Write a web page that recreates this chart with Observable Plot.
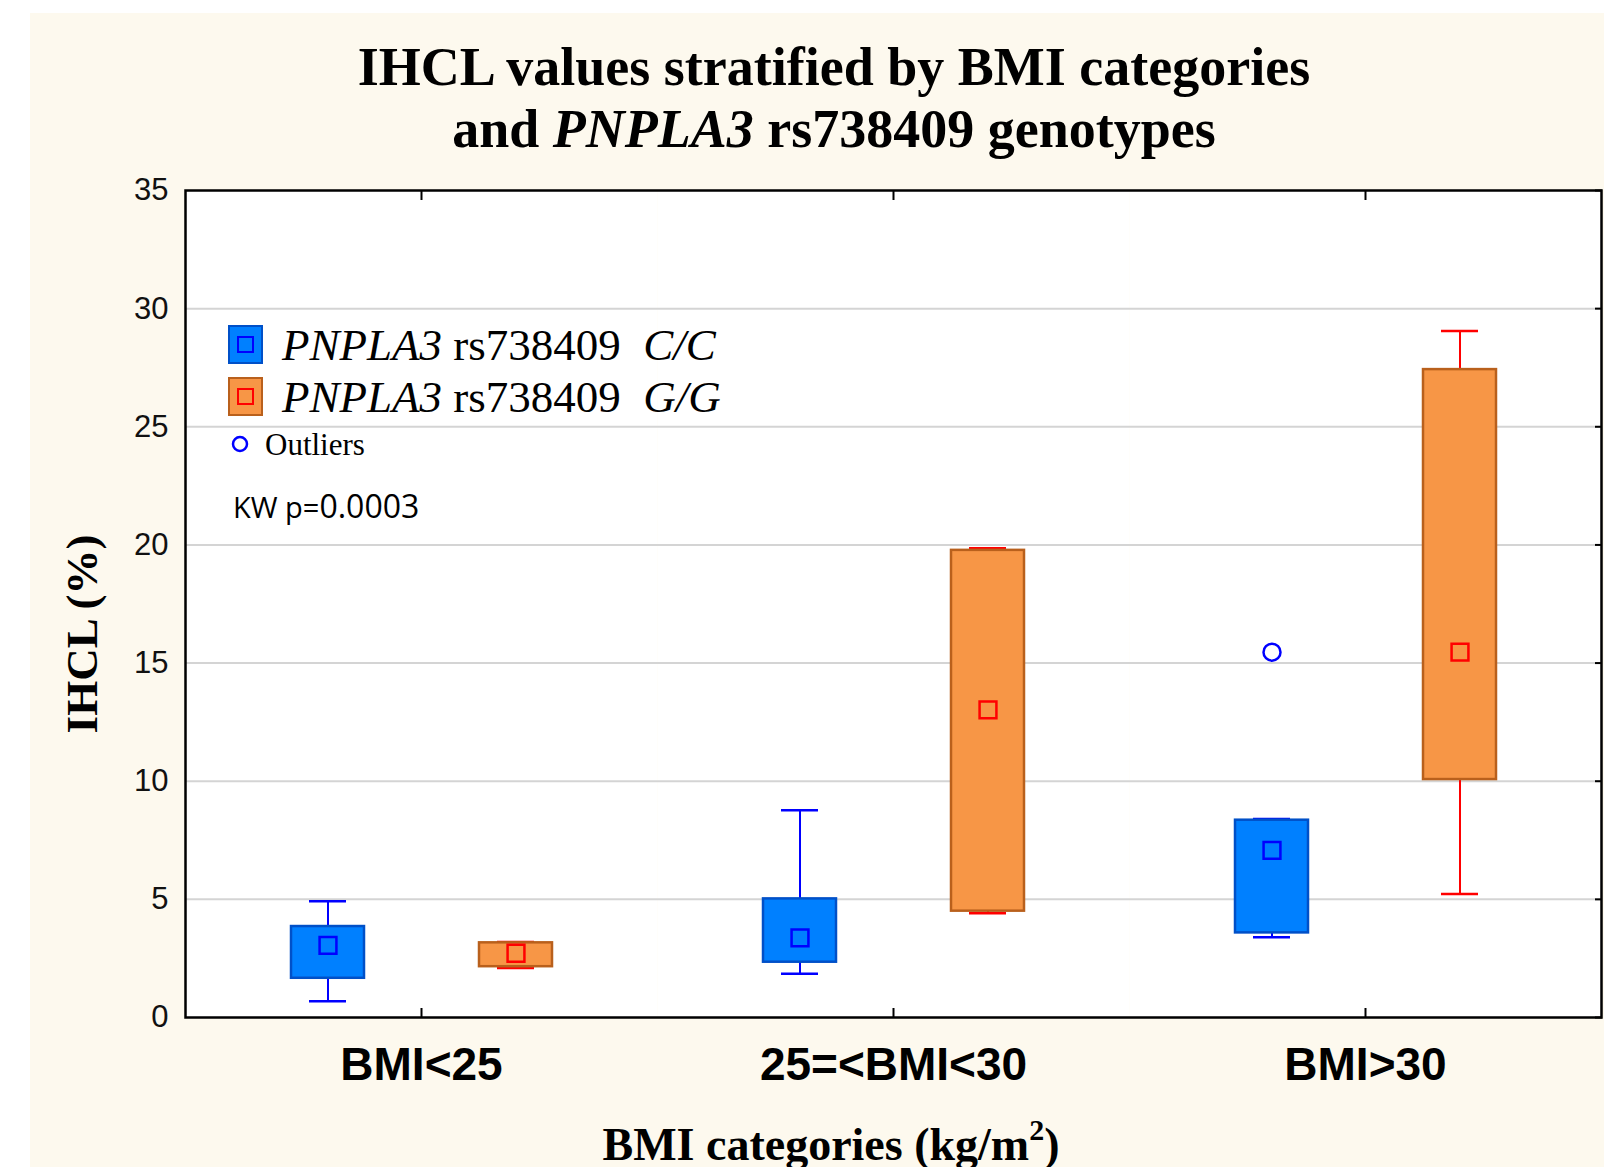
<!DOCTYPE html>
<html><head><meta charset="utf-8">
<script src="https://cdn.jsdelivr.net/npm/d3@7"></script>
<script src="https://cdn.jsdelivr.net/npm/@observablehq/plot@0.6"></script>
<style>
body{margin:0;background:#fff;width:1604px;height:1167px;position:relative;overflow:hidden;}
#bg{position:absolute;left:30px;top:13px;width:1574px;height:1154px;background:#fdf9ee;}
#title{position:absolute;left:0;width:1668px;top:36px;text-align:center;font:bold 54px/62px "Liberation Serif","Times New Roman",serif;color:#000;}
#ylab{position:absolute;left:82px;top:634px;transform:translate(-50%,-50%) rotate(-90deg);white-space:nowrap;font:bold 45px "Liberation Serif",serif;}
#xlab{position:absolute;left:0;width:1662px;top:1119px;text-align:center;font:bold 46px/52px "Liberation Serif",serif;white-space:nowrap;}
#xlab sup{font-size:30px;vertical-align:0;position:relative;top:-20px;}
#chart{position:absolute;left:0;top:150px;}
.sw{position:absolute;width:35px;height:39px;box-sizing:border-box;border:2px solid;}
.sw i{position:absolute;left:7px;top:9px;width:17px;height:17px;box-sizing:border-box;border:2.5px solid;}
.lt{position:absolute;font:45px "Liberation Serif",serif;transform:translateY(-50%);line-height:1;white-space:nowrap;}
</style></head>
<body>
<div id="bg"></div>
<div id="title">IHCL values stratified by BMI categories<br>and <i>PNPLA3</i> rs738409 genotypes</div>
<div id="ylab">IHCL (%)</div>
<div id="chart"></div>
<div id="xlab">BMI categories (kg/m<sup>2</sup>)</div>
<div id="legend"></div>
<script>
// ---- data ----
const categories = ["BMI<25", "25=<BMI<30", "BMI>30"];
const genotypes = ["C/C", "G/G"];
// C/C genotype box statistics
const ccMin = [0.69, 1.85, 3.40];
const ccQ1  = [1.66, 2.34, 3.58];
const ccMed = [3.05, 3.37, 7.07];
const ccQ3  = [3.85, 5.02, 8.35];
const ccMax = [4.92, 8.77, 8.40];
// G/G genotype box statistics
const ggMin = [2.10, 4.41, 5.23];
const ggQ1  = [2.15, 4.50, 10.07];
const ggMed = [2.72, 13.02, 15.46];
const ggQ3  = [3.16, 19.77, 27.42];
const ggMax = [3.20, 19.86, 29.05];
// outliers
const outlierCat = ["BMI>30"];
const outlierGeno = ["C/C"];
const outlierVal = [15.46];
const yTicks = [0, 5, 10, 15, 20, 25, 30, 35];

const rows = [];
categories.forEach((c, i) => {
  rows.push({cat: c, geno: "C/C", min: ccMin[i], q1: ccQ1[i], med: ccMed[i], q3: ccQ3[i], max: ccMax[i]});
  rows.push({cat: c, geno: "G/G", min: ggMin[i], q1: ggQ1[i], med: ggMed[i], q3: ggQ3[i], max: ggMax[i]});
});
const outliers = outlierVal.map((v, i) => ({cat: outlierCat[i], geno: outlierGeno[i], value: v}));
const cc = rows.filter(d => d.geno === "C/C");
const gg = rows.filter(d => d.geno === "G/G");

const blue = {fill: "#0080ff", stroke: "#0050c8", line: "#0000ff"};
const orange = {fill: "#f79646", stroke: "#b9601c", line: "#ff0000"};

function boxMarks(data, col) {
  return [
    Plot.ruleX(data, {fx: "cat", x: "geno", y1: "min", y2: "max", stroke: col.line, strokeWidth: 2}),
    Plot.tickY(data, {fx: "cat", x: "geno", y: "min", stroke: col.line, strokeWidth: 2.5, insetLeft: 18, insetRight: 18}),
    Plot.tickY(data, {fx: "cat", x: "geno", y: "max", stroke: col.line, strokeWidth: 2.5, insetLeft: 18, insetRight: 18}),
    Plot.barY(data, {fx: "cat", x: "geno", y1: "q1", y2: "q3", fill: col.fill, stroke: col.stroke, strokeWidth: 2.5}),
    Plot.dot(data, {fx: "cat", x: "geno", y: "med", symbol: "square", r: 9.5, stroke: col.line, strokeWidth: 2.5, fill: "none"})
  ];
}

const chart = Plot.plot({
  width: 1604,
  height: 947,
  marginLeft: 184,
  marginRight: 2,
  marginTop: 40,
  marginBottom: 80,
  style: {background: "transparent", overflow: "visible"},
  fx: {domain: categories, padding: 0, label: null},
  x: {domain: genotypes, paddingInner: 0.6125, paddingOuter: 0.556, axis: null},
  y: {domain: [0, 35], label: null},
  marks: [
    Plot.frame({fill: "white", stroke: null}),
    Plot.gridY(yTicks.slice(1, -1), {stroke: "#d4d4d4", strokeOpacity: 1, strokeWidth: 2}),
    ...boxMarks(cc, blue),
    ...boxMarks(gg, orange),
    Plot.dot(outliers, {fx: "cat", x: "geno", y: "value", r: 8.5, stroke: "#0000ff", strokeWidth: 2.5, fill: "none"}),
    Plot.axisY(yTicks, {anchor: "left", tickSize: 0, tickPadding: 17, fontSize: 31, fill: "#111", fontFamily: "Liberation Sans, Arial, sans-serif", label: null}),
    Plot.axisY(yTicks, {anchor: "right", tickSize: 7, dx: -7, tickFormat: () => "", strokeWidth: 2, label: null}),
    Plot.axisFx({anchor: "bottom", tickSize: 0, tickPadding: 30, fontSize: 46, fontWeight: "bold", fill: "#000", fontFamily: "Liberation Sans, Arial, sans-serif", label: null}),
    Plot.axisFx({anchor: "bottom", tickSize: -9, tickFormat: () => "", strokeWidth: 2, label: null}),
    Plot.axisFx({anchor: "top", tickSize: -9, tickFormat: () => "", strokeWidth: 2, label: null}),
    Plot.frame({stroke: "black", strokeWidth: 2.5, facet: "super"})
  ]
});
document.getElementById("chart").appendChild(chart);

// ---- legend (overlaid in the plot's upper-left corner) ----
const legendItems = [
  {geno: genotypes[0], col: blue, top: 325},
  {geno: genotypes[1], col: orange, top: 377}
];
const leg = document.getElementById("legend");
legendItems.forEach(it => {
  const sw = document.createElement("div");
  sw.className = "sw";
  sw.style.left = "228px"; sw.style.top = it.top + "px";
  sw.style.background = it.col.fill; sw.style.borderColor = it.col.stroke;
  const inner = document.createElement("i");
  inner.style.borderColor = it.col.line;
  sw.appendChild(inner);
  leg.appendChild(sw);
  const t = document.createElement("div");
  t.className = "lt";
  t.style.left = "282px"; t.style.top = (it.top + 20) + "px";
  t.innerHTML = "<i>PNPLA3</i> rs738409&nbsp; <i>" + it.geno + "</i>";
  leg.appendChild(t);
});
leg.insertAdjacentHTML("beforeend",
  '<svg style="position:absolute;left:231px;top:435px" width="18" height="18"><circle cx="9" cy="9" r="7" fill="none" stroke="#0000ff" stroke-width="2.5"/></svg>' +
  '<div class="lt" style="left:265px;top:444px;font-size:31px">Outliers</div>' +
  '<div class="lt" style="left:233px;top:505px;font:29px \'Open Sans\',sans-serif;">KW p=<span style="font-size:32px">0.0003</span></div>');
</script>
</body></html>
